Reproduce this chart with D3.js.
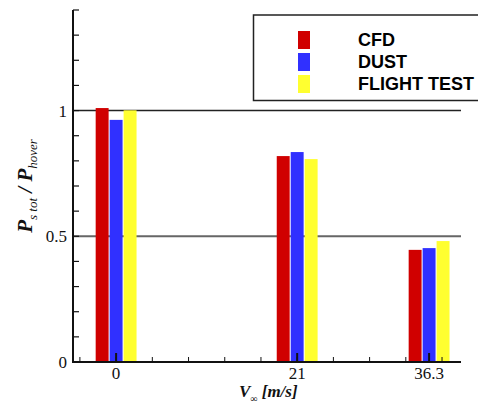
<!DOCTYPE html>
<html><head><meta charset="utf-8">
<script src="https://cdn.jsdelivr.net/npm/d3@7"></script>
<style>body{margin:0;background:#fff} .serif{font-family:"Liberation Serif","Times New Roman",serif}</style>
</head><body>
<svg id="c" width="478" height="405"></svg>
<script>
const categories = ["0", "21", "36.3"];
const speeds = [0, 21, 36.3];
const seriesNames = ["CFD", "DUST", "FLIGHT TEST"];
const cfd = [1.010, 0.819, 0.446];
const dust = [0.963, 0.835, 0.453];
const flight = [1.001, 0.807, 0.481];
const yMajor = [0, 0.5, 1];
const yMinor = d3.range(0, 15).map(i => i / 10);
const xMinor = d3.range(-1, 10).map(i => i * 4.2);
const colors = ["#d00000", "#3030ff", "#ffff30"];
const series = [cfd, dust, flight];

const svg = d3.select("#c");
const x = d3.scaleLinear().domain([-5, 40]).range([73, 461]);
const y = d3.scaleLinear().domain([0, 1.4]).range([362, 10]);
const ux = v => x(v) - x(0);

// gridlines
svg.append("line").attr("x1", 73).attr("x2", 461).attr("y1", y(1)).attr("y2", y(1))
  .attr("stroke", "#222").attr("stroke-width", 1.5);
svg.append("line").attr("x1", 73).attr("x2", 461).attr("y1", y(0.5)).attr("y2", y(0.5))
  .attr("stroke", "#666").attr("stroke-width", 2);

// bars
const bw = ux(1.5), off = ux(1.62);
series.forEach((s, si) => {
  svg.append("g").selectAll("rect").data(s).join("rect")
    .attr("x", (d, i) => x(speeds[i]) + (si - 1) * off - bw / 2)
    .attr("width", bw)
    .attr("y", d => y(d))
    .attr("height", d => y(0) - y(d))
    .attr("fill", colors[si]);
});

// axes lines
svg.append("line").attr("x1", 73).attr("x2", 73).attr("y1", y(1.4)).attr("y2", y(0) + 1)
  .attr("stroke", "#111").attr("stroke-width", 2);
svg.append("line").attr("x1", 72).attr("x2", 461).attr("y1", y(0)).attr("y2", y(0))
  .attr("stroke", "#111").attr("stroke-width", 2);

// y ticks
svg.append("g").selectAll("line").data(yMinor).join("line")
  .attr("x1", 73).attr("x2", 79).attr("y1", d => y(d)).attr("y2", d => y(d))
  .attr("stroke", "#111").attr("stroke-width", 1.2);
svg.append("g").selectAll("text").data(yMajor).join("text")
  .attr("class", "serif")
  .attr("x", 67).attr("y", d => y(d) + 6)
  .attr("text-anchor", "end").attr("font-size", 17)
  .attr("fill", "#111").text(d => d);

// x ticks
svg.append("g").selectAll("line").data(xMinor).join("line")
  .attr("x1", d => x(d)).attr("x2", d => x(d)).attr("y1", y(0)).attr("y2", y(0) - 5)
  .attr("stroke", "#111").attr("stroke-width", 1);
svg.append("g").selectAll("line").data(speeds).join("line")
  .attr("x1", d => x(d)).attr("x2", d => x(d)).attr("y1", y(0)).attr("y2", y(0) - 9)
  .attr("stroke", "#111").attr("stroke-width", 2);
svg.append("g").selectAll("text").data(speeds).join("text")
  .attr("class", "serif")
  .attr("x", d => x(d)).attr("y", 379)
  .attr("text-anchor", "middle").attr("font-size", 17)
  .attr("fill", "#111").text((d, i) => categories[i]);

// x title
const xt = svg.append("text").attr("class", "serif").attr("x", 239).attr("y", 397)
  .attr("font-weight", "bold").attr("font-style", "italic")
  .attr("font-size", 17).attr("fill", "#111");
xt.append("tspan").text("V");
xt.append("tspan").attr("font-size", 10).attr("dy", 5).text("∞");
xt.append("tspan").attr("dy", -5).text(" [m/s]");

// y title
const yt = svg.append("text").attr("class", "serif").attr("transform", "translate(32,186) rotate(-90)")
  .attr("text-anchor", "middle")
  .attr("font-weight", "bold").attr("font-style", "italic")
  .attr("font-size", 21).attr("fill", "#111");
yt.append("tspan").text("P");
yt.append("tspan").attr("font-size", 13).attr("font-weight", "normal").attr("dy", 5).text("s tot");
yt.append("tspan").attr("dy", -5).text(" / P");
yt.append("tspan").attr("font-size", 13).attr("font-weight", "normal").attr("dy", 5).text("hover");

// legend
svg.append("rect").attr("x", 253.5).attr("y", 15).attr("width", 240).attr("height", 85.5)
  .attr("fill", "#fff").attr("stroke", "#222").attr("stroke-width", 1.5);
const lg = svg.append("g").selectAll("g").data(seriesNames).join("g");
lg.append("rect").attr("x", 298).attr("y", (d, i) => 31 + i * 22).attr("width", 12).attr("height", 18)
  .attr("fill", (d, i) => colors[i]);
lg.append("text").attr("x", 358).attr("y", (d, i) => 45.5 + i * 22)
  .attr("font-family", "Liberation Sans, Arial, sans-serif").attr("font-weight", "bold").attr("font-size", 18)
  .attr("fill", "#000").text(d => d);
</script>
</body></html>
